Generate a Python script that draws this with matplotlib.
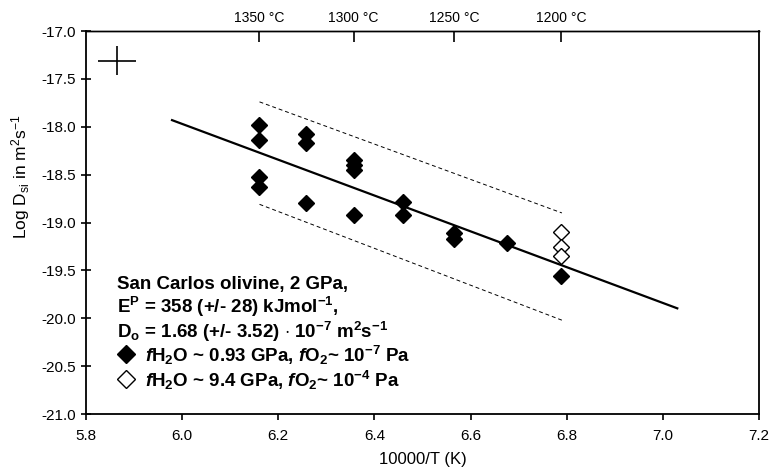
import numpy as np
import matplotlib
matplotlib.use("Agg")
import matplotlib.pyplot as plt

plt.rcParams['font.family'] = ['Liberation Sans', 'DejaVu Sans']
plt.rcParams['mathtext.fontset'] = 'custom'
plt.rcParams['mathtext.rm'] = 'Liberation Sans'
plt.rcParams['mathtext.bf'] = 'Liberation Sans:bold'
plt.rcParams['mathtext.it'] = 'Liberation Sans:bold:italic'

# data
# run temperatures (deg C) -> 10000/T(K)
temp_filled = [1350, 1350, 1350, 1350, 1325, 1325, 1325, 1300, 1300, 1300, 1300,
               1275, 1275, 1250, 1250, 1225, 1200]
logD_filled = [-17.98, -18.14, -18.52, -18.63, -18.08, -18.17, -18.80, -18.35, -18.40,
               -18.45, -18.92, -18.79, -18.92, -19.11, -19.17, -19.21, -19.56]
temp_open = [1200, 1200, 1200]
logD_open = [-19.10, -19.26, -19.35]

# Arrhenius fit  log D = a + b * (10000/T)
fit_a = -6.75
fit_b = -1.87
fit_x = [5.979, 7.03]

# dashed envelope
env_x = [6.161, 6.79]
env_up = [-17.74, -18.90]
env_lo = [-18.81, -20.02]

# typical error bar
err_x, err_y = 5.864, -17.31
err_dx, err_dy = 0.04, 0.15

top_temps = [1350, 1300, 1250, 1200]

x_filled = 10000.0 / (np.array(temp_filled) + 273.15)
x_open = 10000.0 / (np.array(temp_open) + 273.15)

fig = plt.figure(figsize=(7.76, 4.70), dpi=100)
ax = fig.add_axes([0.1108, 0.1191, 0.8673, 0.8149])

fx = np.array(fit_x)
ax.plot(fx, fit_a + fit_b * fx, color='black', lw=1.6)
ax.plot(env_x, env_up, color='black', lw=0.7, ls=(0, (4, 3)))
ax.plot(env_x, env_lo, color='black', lw=0.7, ls=(0, (4, 3)))

ax.plot(x_filled, logD_filled, 'D', color='black', ms=8.5, ls='none')
ax.plot(x_open, logD_open, 'D', mfc='white', mec='black', mew=1.0, ms=8.5, ls='none')

ax.errorbar([err_x], [err_y], xerr=err_dx, yerr=err_dy, fmt='none', ecolor='black',
            elinewidth=1.2, capsize=0)

ax.set_xlim(5.8, 7.2)
ax.set_ylim(-21.0, -17.0)
ax.set_xticks(np.arange(5.8, 7.21, 0.2))
ax.set_yticks(np.arange(-21.0, -16.99, 0.5))
ax.xaxis.set_major_formatter(matplotlib.ticker.FormatStrFormatter('%.1f'))
ax.yaxis.set_major_formatter(matplotlib.ticker.FormatStrFormatter('%.1f'))
ax.tick_params(axis='x', direction='out', length=4, width=1.2, labelsize=11, pad=7)
ax.tick_params(axis='y', direction='inout', length=7, width=1.2, labelsize=11, pad=4)
for s in ax.spines.values():
    s.set_linewidth(1.3)
ax.spines['top'].set_linewidth(1.0)

ax.set_xlabel('10000/T (K)', fontsize=12, labelpad=6)
ax.set_ylabel(r'Log D$_{\mathrm{si}}$ in m$^{\mathrm{2}}$s$^{\mathrm{-1}}$', fontsize=12.5)
ax.yaxis.set_label_coords(-0.08, 0.62)

top = ax.secondary_xaxis('top')
top.set_xticks([10000.0 / (t + 273.15) for t in top_temps])
top.set_xticklabels(['%d \u00b0C' % t for t in top_temps])
top.tick_params(direction='in', length=8, width=1.2, labelsize=10, pad=4)
top.spines['top'].set_linewidth(1.0)

# legend / annotation block
tx = 0.046
fs = 13.5
ax.text(tx, 0.3264, 'San Carlos olivine, 2 GPa,', transform=ax.transAxes,
        fontsize=fs, fontweight='bold', va='baseline')
ax.text(tx, 0.2637, r'E$^{\mathbf{P}}$ = 358 (+/- 28) kJmol$^{\mathbf{-1}}$,', transform=ax.transAxes,
        fontsize=fs, fontweight='bold', va='baseline')
ax.text(tx, 0.1984, r'D$_{\mathbf{o}}$ = 1.68 (+/- 3.52) $\cdot$ 10$^{\mathbf{-7}}$ m$^{\mathbf{2}}$s$^{\mathbf{-1}}$',
        transform=ax.transAxes, fontsize=fs, fontweight='bold', va='baseline')
ax.plot([0.0595], [0.156], 'D', color='black', ms=9.5, transform=ax.transAxes)
ax.plot([0.0595], [0.091], 'D', mfc='white', mec='black', mew=1.0, ms=9.5, transform=ax.transAxes)
ax.text(0.087, 0.1360, r'$\mathit{f}$H$_{\mathbf{2}}$O ~ 0.93 GPa, $\mathit{f}$O$_{\mathbf{2}}$~ 10$^{\mathbf{-7}}$ Pa',
        transform=ax.transAxes, fontsize=fs, fontweight='bold', va='baseline')
ax.text(0.087, 0.0710, r'$\mathit{f}$H$_{\mathbf{2}}$O ~ 9.4 GPa, $\mathit{f}$O$_{\mathbf{2}}$~ 10$^{\mathbf{-4}}$ Pa',
        transform=ax.transAxes, fontsize=fs, fontweight='bold', va='baseline')

fig.savefig('out.png', dpi=100)
